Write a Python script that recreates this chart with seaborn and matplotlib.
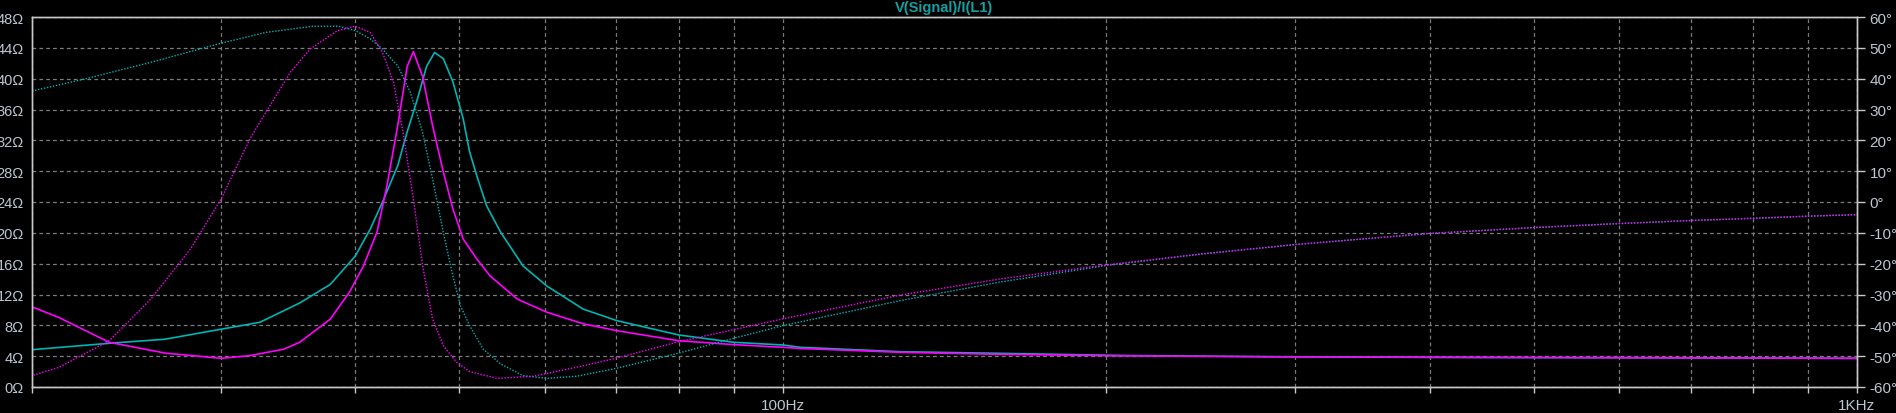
import matplotlib
matplotlib.use("Agg")
import matplotlib.pyplot as plt
import matplotlib.ticker as mticker
import seaborn as sns

# magnitude, trace 1 (magenta, solid) - Ohm
freq_mag_m = [20.0, 21.2, 23.6, 26.6, 30.0, 31.9, 34.3, 35.5, 37.9, 39.5, 40.7, 41.9, 42.8,
              43.8, 44.7, 45.3, 46.2, 47.2, 48.3, 49.3, 50.4, 51.9, 53.4, 56.6, 60.3, 65.2,
              70.1, 80.0, 90.0, 100.0, 103.8, 128.6, 159.0, 200.0, 282.0, 400.0, 600.0, 1000.0]
mag_m = [10.4, 9.0, 5.8, 4.4, 3.72, 4.07, 4.9, 5.8, 8.8, 12.3, 15.7, 20.1, 26.1,
         33.9, 41.6, 43.5, 40.3, 33.9, 27.9, 23.1, 19.2, 16.6, 14.4, 11.4, 9.7, 8.2,
         7.3, 6.0, 5.5, 5.15, 5.0, 4.5, 4.24, 4.06, 3.93, 3.85, 3.8, 3.72]

# magnitude, trace 2 (cyan, solid) - Ohm
freq_mag_c = [20.0, 23.6, 26.6, 30.0, 32.6, 35.5, 37.9, 40.0, 41.3, 42.4, 43.8, 44.7, 45.7,
              46.6, 47.4, 48.3, 49.3, 50.4, 51.1, 52.0, 53.0, 54.6, 57.3, 60.3, 65.2, 70.1,
              80.0, 90.0, 100.0, 103.8, 128.6, 159.0, 204.8, 282.0, 400.0, 600.0, 1000.0]
mag_c = [4.84, 5.67, 6.2, 7.5, 8.4, 10.9, 13.3, 17.0, 20.5, 24.0, 28.7, 33.1, 37.4,
         41.6, 43.4, 42.6, 39.6, 34.8, 30.5, 27.0, 23.5, 20.1, 15.7, 13.1, 10.1, 8.6,
         6.75, 5.8, 5.45, 5.15, 4.58, 4.37, 4.1, 3.93, 3.85, 3.8, 3.72]

# phase, trace 1 (magenta, dotted) - degrees
freq_ph_m = [20.0, 21.2, 23.6, 25.8, 28.1, 30.0, 31.9, 33.3, 34.8, 36.3, 38.5, 40.0, 41.3,
             42.4, 43.4, 44.3, 45.3, 46.2, 47.2, 48.3, 49.7, 51.1, 54.2, 58.6, 60.3, 65.2,
             70.1, 80.0, 90.0, 100.0, 128.6, 159.0, 200.0, 244.7, 300.0, 400.0, 500.0,
             600.0, 700.0, 800.0, 900.0, 1000.0]
ph_m = [-56.3, -53.6, -45.0, -31.5, -15.2, 1.0, 20.4, 31.2, 42.1, 49.6, 55.6, 57.0, 55.0,
        48.5, 38.8, 22.7, 1.0, -20.7, -37.9, -46.6, -52.0, -55.0, -57.2, -56.5, -55.6, -53.1,
        -50.6, -45.3, -41.4, -37.9, -30.2, -25.0, -20.4, -16.9, -13.8, -10.2, -8.3,
        -7.0, -6.0, -5.3, -4.6, -4.1]

# phase, trace 2 (cyan, dotted) - degrees
freq_ph_c = [20.0, 22.4, 25.8, 30.0, 33.0, 36.5, 38.6, 40.0, 41.3, 42.4, 43.8, 45.0, 46.2,
             47.2, 48.3, 49.3, 50.1, 51.1, 52.6, 54.6, 57.3, 60.3, 64.3, 70.1, 80.0, 90.0,
             100.0, 128.6, 159.0, 200.0, 244.7, 300.0, 400.0, 500.0, 600.0, 700.0, 800.0,
             900.0, 1000.0]
ph_c = [36.0, 39.9, 45.3, 51.5, 55.0, 57.0, 57.0, 55.6, 52.9, 49.6, 44.2, 35.6, 22.6,
        7.5, -9.8, -24.0, -33.6, -40.1, -47.7, -52.5, -56.3, -57.2, -56.5, -53.9, -49.0, -44.2,
        -40.1, -32.0, -26.0, -20.6, -16.9, -13.8, -10.2, -8.3, -7.0, -6.0, -5.3,
        -4.6, -4.1]

ohm_ticks = list(range(0, 49, 4))
deg_ticks = list(range(-60, 61, 10))
x_major = [100, 1000]
x_major_labels = ["100Hz", "1KHz"]
x_minor = [20, 30, 40, 50, 60, 70, 80, 90, 200, 300, 400, 500, 600, 700, 800, 900]

sns.set_theme(style="dark")
plt.rcParams["font.family"] = ["Liberation Sans", "DejaVu Sans"]

MAGENTA = "#ff00ff"
CYAN = "#00b4b4"
FRAME = "#c8c8c8"
LABEL = "#bcc6d0"
GRID = "#7c7c7c"

fig = plt.figure(figsize=(18.96, 4.14), dpi=100, facecolor="black")
ax = fig.add_axes([32 / 1896, 26 / 414, 1825 / 1896, 370 / 414])
ax.set_facecolor("black")
ax.set_xscale("log")

# magnitudes on the left axis
sns.lineplot(x=freq_mag_c, y=mag_c, ax=ax, color=CYAN, linewidth=1.2)
sns.lineplot(x=freq_mag_m, y=mag_m, ax=ax, color=MAGENTA, linewidth=1.2)

ax.set_xlim(20, 1000)
ax.set_ylim(0, 48)

# phases on the right axis
ax2 = ax.twinx()
sns.lineplot(x=freq_ph_c, y=ph_c, ax=ax2, color=CYAN, linewidth=1.0, linestyle=(0, (1, 1.2)))
sns.lineplot(x=freq_ph_m, y=ph_m, ax=ax2, color=MAGENTA, linewidth=1.0, linestyle=(1.1, (1, 1.2)))
ax2.set_ylim(-60, 60)
ax2.set_xlim(20, 1000)

# ticks
ax.xaxis.set_major_locator(mticker.FixedLocator(x_major))
ax.xaxis.set_major_formatter(mticker.FixedFormatter(x_major_labels))
ax.xaxis.set_minor_locator(mticker.FixedLocator(x_minor))
ax.xaxis.set_minor_formatter(mticker.NullFormatter())
ax.set_yticks(ohm_ticks)
ax.set_yticklabels([f"{v}Ω" for v in ohm_ticks])
ax2.set_yticks(deg_ticks)
ax2.set_yticklabels([f"{v}°" for v in deg_ticks])

ax.tick_params(axis="x", which="both", direction="out", length=4, width=1,
               color=FRAME, labelcolor=LABEL, labelsize=11, pad=4, bottom=True)
ax.tick_params(axis="y", length=0, pad=6, labelcolor=LABEL, labelsize=10.5, left=True)
ax2.tick_params(axis="y", direction="out", length=6, width=1, color=FRAME,
                labelcolor=LABEL, labelsize=11, pad=3, right=True)

ax.grid(True, which="both", axis="x", color=GRID, linewidth=0.9, linestyle=(0, (3, 2.5)))
ax.grid(True, which="major", axis="y", color=GRID, linewidth=0.9, linestyle=(0, (3, 2.5)))
ax2.grid(False)
ax.set_axisbelow(True)
ax.set_xlabel("")
ax.set_ylabel("")
ax2.set_ylabel("")

for a in (ax, ax2):
    for s in a.spines.values():
        s.set_visible(True)
        s.set_color(FRAME)
        s.set_linewidth(1)

fig.text(944 / 1896, 1 - 8 / 414, "V(Signal)/I(L1)", ha="center", va="center",
         color="#14a0a0", fontsize=10.5, fontweight="bold")

fig.savefig("out.png", dpi=100, facecolor="black")
